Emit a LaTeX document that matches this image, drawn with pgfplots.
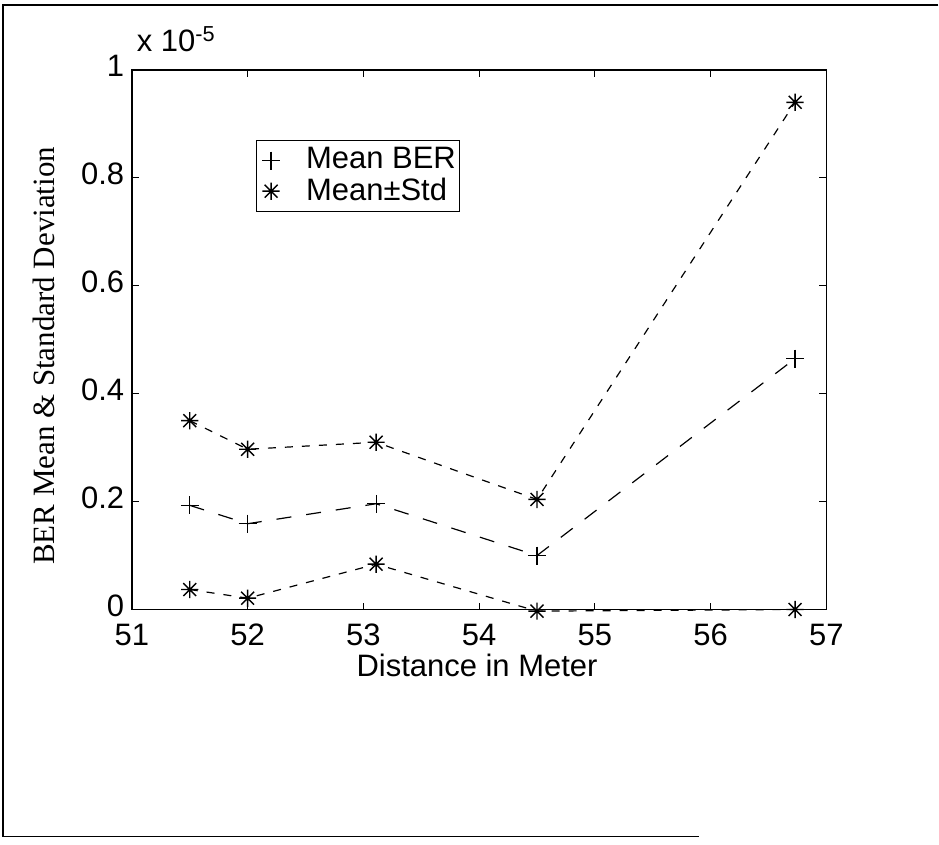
\documentclass[border=0pt]{standalone}
\usepackage{pgfplots}
\pgfplotsset{compat=1.18}
\usepackage{pgfplotstable}
\usepackage{fontspec}
\setmainfont{Liberation Sans}
\newfontfamily\timesfont{Liberation Serif}

% matlab style asterisk: plus and cross together
\pgfdeclareplotmark{mstar}{%
  \pgfpathmoveto{\pgfqpoint{-\pgfplotmarksize}{0pt}}%
  \pgfpathlineto{\pgfqpoint{\pgfplotmarksize}{0pt}}%
  \pgfpathmoveto{\pgfqpoint{0pt}{-\pgfplotmarksize}}%
  \pgfpathlineto{\pgfqpoint{0pt}{\pgfplotmarksize}}%
  \pgfpathmoveto{\pgfqpoint{-.75\pgfplotmarksize}{-.75\pgfplotmarksize}}%
  \pgfpathlineto{\pgfqpoint{.75\pgfplotmarksize}{.75\pgfplotmarksize}}%
  \pgfpathmoveto{\pgfqpoint{-.75\pgfplotmarksize}{.75\pgfplotmarksize}}%
  \pgfpathlineto{\pgfqpoint{.75\pgfplotmarksize}{-.75\pgfplotmarksize}}%
  \pgfusepathqstroke}

% BER values in units of 1e-5
\pgfplotstableread{
x     mean   upper  lower
51.5  0.193  0.350  0.037
52.0  0.159  0.297  0.021
53.11 0.196  0.310  0.084
54.5  0.100  0.204  -0.003
56.73 0.465  0.940  0.000
}\berdata

\begin{document}
\fontsize{15.5}{18}\selectfont
\begin{tikzpicture}
\begin{axis}[
  scale only axis,
  width=347.5pt, height=270pt,
  xmin=51, xmax=57, ymin=0, ymax=1,
  xtick={51,52,53,54,55,56,57},
  ytick={0,0.2,0.4,0.6,0.8,1},
  yticklabels={0,0.2,0.4,0.6,0.8,1},
  /pgf/number format/assume math mode=true,
  tick align=inside, major tick length=3.5pt,
  tick style={black, line width=0.6pt},
  axis line style={line width=0.75pt},
  xticklabel style={anchor=base, inner sep=0pt, yshift=-18pt},
  yticklabel style={xshift=1.5pt, yshift=2pt},
  clip=false,
  xlabel={Distance in Meter},
  xlabel style={at={(axis description cs:0.497,-0.1245)}, anchor=base, inner sep=0pt},
  ylabel={\timesfont\fontsize{15.5}{18}\selectfont BER Mean \& Standard Deviation},
  ylabel style={at={(axis description cs:-0.127,0.47)}, anchor=center},
  legend style={at={(axis description cs:0.178,0.87)}, anchor=north west,
    font=\fontsize{15.5}{17}\selectfont,
    draw=black, line width=0.6pt, fill=white, inner xsep=0pt, inner ysep=1.5pt,
    row sep=-2pt, cells={anchor=west, inner xsep=1pt}},
  legend image code/.code={%
    \path[draw=none] (-7.5pt,0pt) -- (15.5pt,0pt);
    \draw[#1] plot coordinates {(0pt,0pt)};},
  legend cell align=left,
]
\addplot[black, line width=0.6pt, dash pattern=on 7.5pt off 7.5pt, forget plot]
  table[x=x, y=mean] {\berdata};
\addplot[black, line width=0.6pt, dash pattern=on 4pt off 4.5pt, forget plot]
  table[x=x, y=upper] {\berdata};
\addplot[black, line width=0.6pt, dash pattern=on 4pt off 4.5pt, forget plot]
  table[x=x, y=lower] {\berdata};

\addplot[black, only marks, mark=+, mark size=4.5pt, mark options={solid, line width=0.6pt}]
  table[x=x, y=mean] {\berdata};
\addlegendentry{Mean BER}
\addplot[black, only marks, mark=mstar, mark size=4.3pt, mark options={solid, line width=0.7pt}]
  table[x=x, y=upper] {\berdata};
\addlegendentry{Mean±Std}
\addplot[black, only marks, mark=mstar, mark size=4.3pt, mark options={solid, line width=0.7pt}, forget plot]
  table[x=x, y=lower] {\berdata};

\node[anchor=base west, inner sep=0pt] at ([xshift=2.3pt, yshift=9pt]rel axis cs:0,1) {x 10\textsuperscript{-5}};
\coordinate (O) at (rel axis cs:0,0);
\end{axis}
\pgfresetboundingbox
\path (O) ++(-66pt,-117.5pt) rectangle ++(469.5pt,422.5pt);
\draw[line width=0.75pt] ([xshift=403.5pt]O |- 0,302.5pt) -- ++(-468pt,0) -- ++(0,-416pt) -- ++(348.5pt,0);
\end{tikzpicture}
\end{document}
